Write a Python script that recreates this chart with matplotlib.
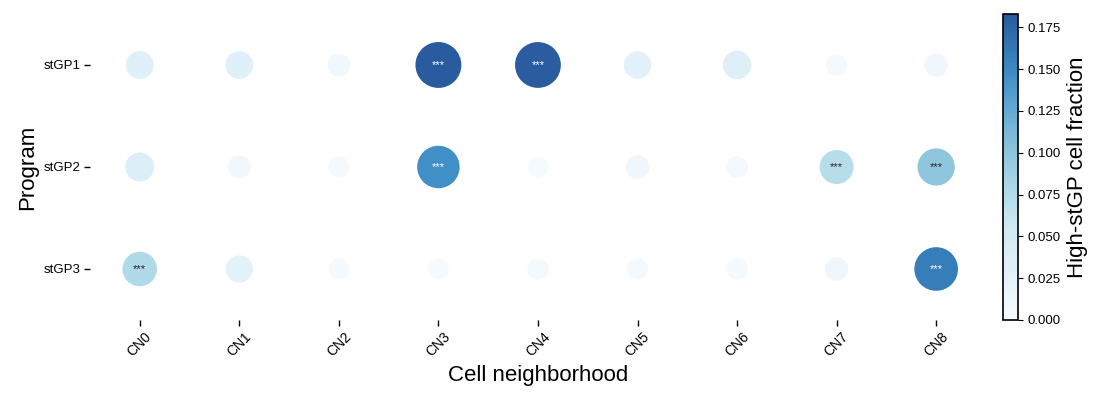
import numpy as np
import matplotlib
matplotlib.use("Agg")
import matplotlib.pyplot as plt
from matplotlib.colors import LinearSegmentedColormap

plt.rcParams['font.family'] = ['Liberation Sans', 'DejaVu Sans']

programs = ["stGP1", "stGP2", "stGP3"]
neighborhoods = ["CN0", "CN1", "CN2", "CN3", "CN4", "CN5", "CN6", "CN7", "CN8"]

# high-stGP cell fraction per program (rows) and neighborhood (cols)
frac_gp1 = [0.032, 0.032, 0.010, 0.182, 0.181, 0.030, 0.035, 0.005, 0.012]
frac_gp2 = [0.038, 0.010, 0.005, 0.146, 0.004, 0.012, 0.006, 0.072, 0.098]
frac_gp3 = [0.076, 0.028, 0.004, 0.003, 0.005, 0.005, 0.005, 0.012, 0.158]

# significant cells (***)
sig_gp1 = ["CN3", "CN4"]
sig_gp2 = ["CN3", "CN7", "CN8"]
sig_gp3 = ["CN0", "CN8"]

vals = np.array([frac_gp1, frac_gp2, frac_gp3])
sigs = [sig_gp1, sig_gp2, sig_gp3]
vmax = 0.183

cmap = LinearSegmentedColormap.from_list("blues2", [
    (0.0, "#f7fbff"), (0.15, "#e3f1f9"), (0.3, "#d0eaf3"),
    (0.45, "#a8d5e6"), (0.55, "#8cc4dc"), (0.7, "#5fa7d2"),
    (0.82, "#3a8ac4"), (1.0, "#2a5a9e")])

fig = plt.figure(figsize=(11.01, 3.99), dpi=100)
ax = fig.add_axes([0.0817, 0.198, 0.8138, 0.767])
cax = fig.add_axes([0.911, 0.198, 0.0136, 0.767])

xs, ys, cs, ss = [], [], [], []
for i, row in enumerate(vals):
    for j, v in enumerate(row):
        xs.append(j)
        ys.append(i)
        cs.append(v)
        d_px = 18 + 28 * (v / vmax) ** 0.6
        ss.append((d_px * 0.72) ** 2)

sc = ax.scatter(xs, ys, c=cs, s=ss, cmap=cmap, vmin=0, vmax=vmax,
                edgecolors='none')

for i, sig in enumerate(sigs):
    for name in sig:
        j = neighborhoods.index(name)
        col = 'white' if vals[i, j] > 0.11 else '#222222'
        ax.text(j, i, "***", ha='center', va='center', fontsize=8, color=col)

ax.set_xlim(-0.5, len(neighborhoods) - 0.5)
ax.set_ylim(len(programs) - 0.5, -0.5)
ax.set_xticks(range(len(neighborhoods)))
ax.set_xticklabels(neighborhoods, rotation=45, ha='center', fontsize=10)
ax.set_yticks(range(len(programs)))
ax.set_yticklabels(programs, fontsize=9.5)
ax.tick_params(length=4, width=1, pad=3)
for s in ax.spines.values():
    s.set_visible(False)
ax.set_xlabel("Cell neighborhood", fontsize=16)
ax.set_ylabel("Program", fontsize=16)

cb = fig.colorbar(sc, cax=cax)
cb.set_ticks(np.arange(0, 0.176, 0.025))
cb.ax.tick_params(labelsize=9.5)
cb.outline.set_linewidth(1.2)
cb.set_label("High-stGP cell fraction", fontsize=16)

fig.savefig("out.png", dpi=100)
